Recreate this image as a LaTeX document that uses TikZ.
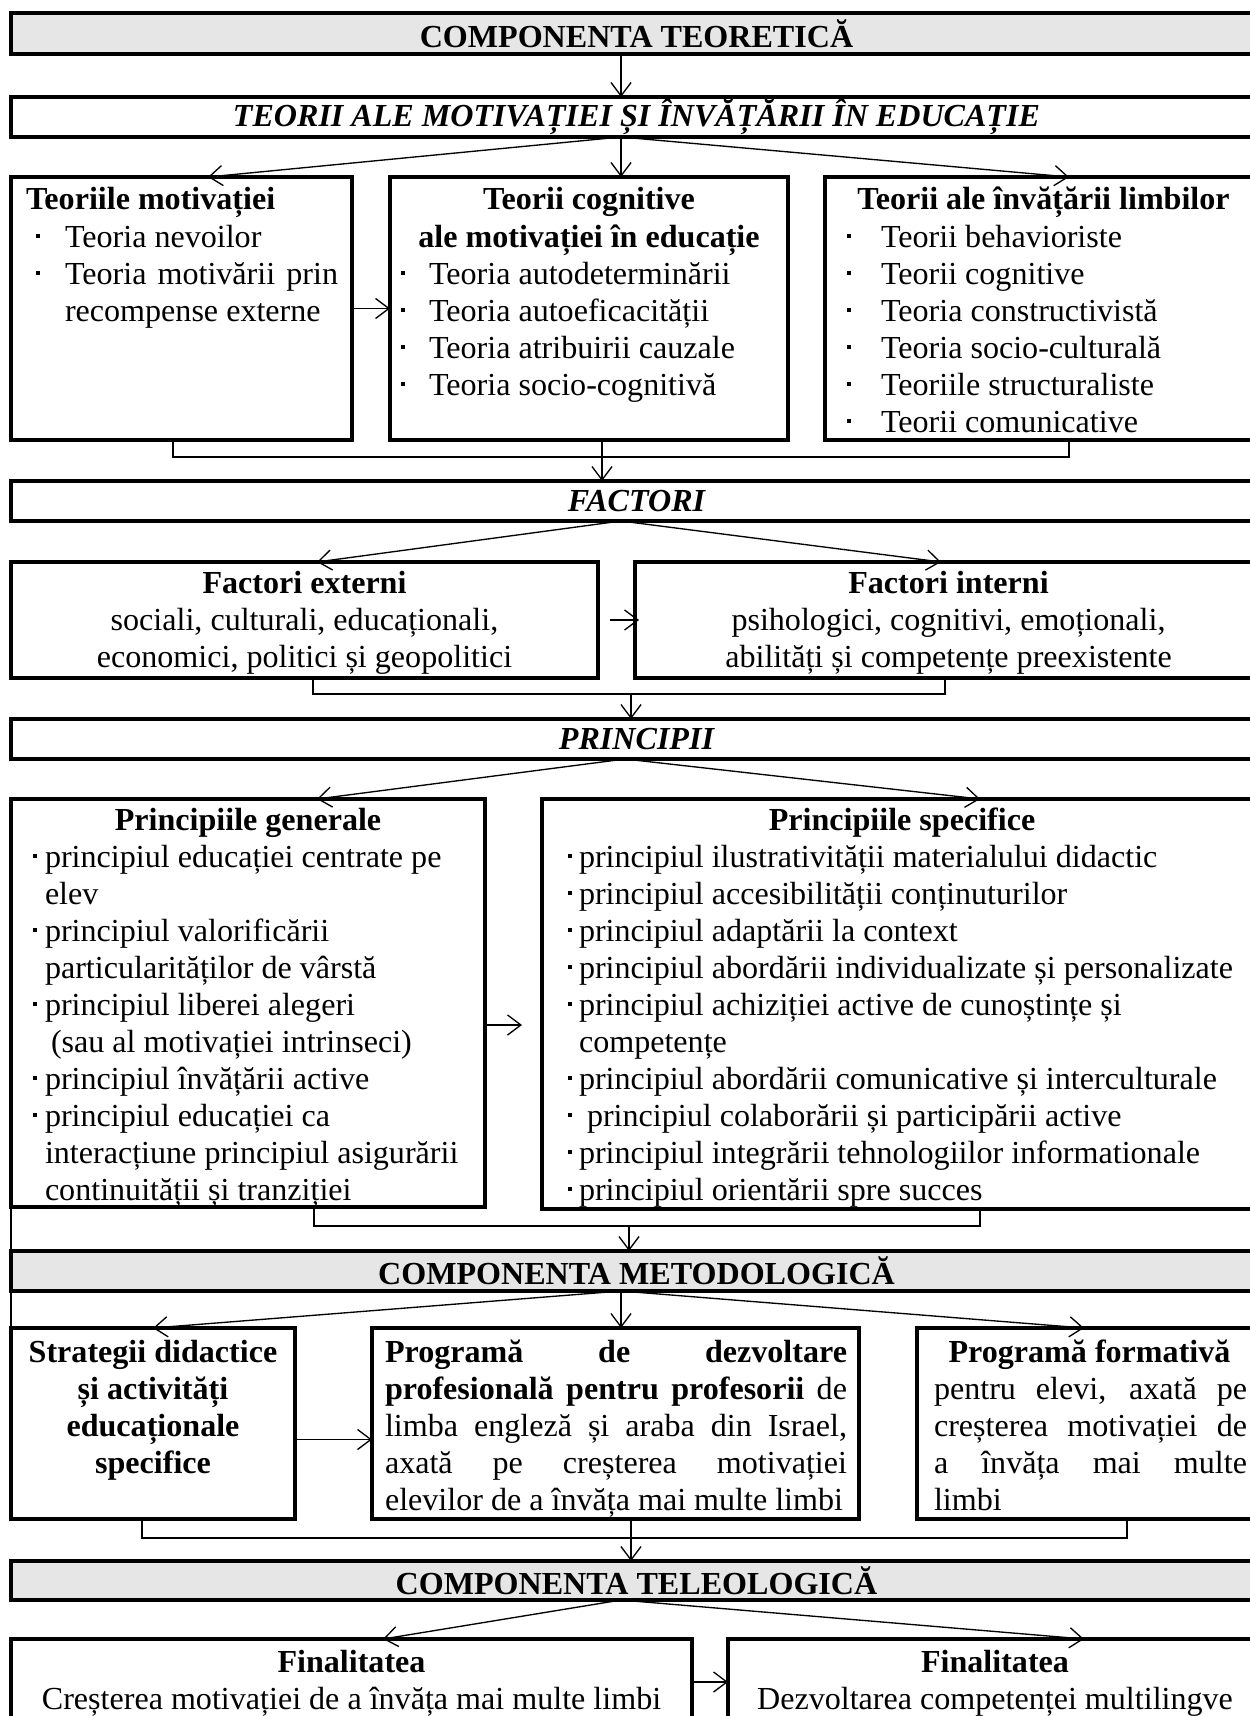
\documentclass[tikz,border=0pt]{standalone}
\usepackage{fontspec}
\setmainfont{Liberation Serif}
\usetikzlibrary{arrows.meta, calc}

\definecolor{hdrgray}{HTML}{E7E6E6}
\newdimen\pxu \pxu=0.374pt
\newcommand\sqb{\rule[3.4pt]{1.5pt}{1.5pt}}
\newcommand\blt[3]{\par\hangindent=#2\pxu\hangafter=1\noindent\makebox[#2\pxu][l]{\hspace*{#1\pxu}\sqb}#3}
\newcommand\cellbody[4][31]{\parbox[c][#3\pxu][t]{#2\pxu}{\rule{0pt}{#1\pxu}#4}}
\newcommand\headtext[2]{\parbox[c][#1\pxu][c]{1251\pxu}{\centering #2}}

\begin{document}
\begin{tikzpicture}[
    x=0.374pt, y=-0.374pt,
    every node/.style={font=\fontsize{12pt}{13.84pt}\selectfont},
    cellbox/.style={draw, line width=1.2pt, inner sep=0pt, outer sep=0pt, anchor=north west},
    headbox/.style={cellbox, fill=hdrgray},
    arr/.style={-{Straight Barb[length=5pt,width=7.5pt]}, line width=0.5pt},
    conn/.style={line width=0.6pt}
]
\useasboundingbox (0,0) rectangle (1250,1716);
\clip (0,0) rectangle (1250,1716);

\coordinate (spine) at (621,0);

% --- 1. Componenta teoretica ---
\node[headbox] (teoretica) at (11,13) {\headtext{41}{\bfseries COMPONENTA TEORETICĂ}};
\node[cellbox] (teorii) at (11,97) {\headtext{40}{\bfseries\itshape TEORII ALE MOTIVAȚIEI ȘI ÎNVĂȚĂRII ÎN EDUCAȚIE}};

\node[cellbox] (motiv) at (11,177) {\cellbody[33]{341}{263}{\rightskip=14\pxu\relax\hspace*{15\pxu}\textbf{Teoriile motivației}%
    \blt{25}{54}{Teoria nevoilor}%
    \blt{25}{54}{Teoria motivării prin\linebreak recompense externe}}};
\node[cellbox] (cognit) at (390,177) {\cellbody[33]{398}{263}{{\centering\bfseries Teorii cognitive\\ ale motivației în educație\par}%
    \blt{11}{39}{Teoria autodeterminării}%
    \blt{11}{39}{Teoria autoeficacității}%
    \blt{11}{39}{Teoria atribuirii cauzale}%
    \blt{11}{39}{Teoria socio-cognitivă}}};
\node[cellbox] (limbi) at (825,177) {\cellbody[33]{437}{263}{{\centering\bfseries Teorii ale învățării limbilor\par}%
    \blt{22}{56}{Teorii behavioriste}%
    \blt{22}{56}{Teorii cognitive}%
    \blt{22}{56}{Teoria constructivistă}%
    \blt{22}{56}{Teoria socio-culturală}%
    \blt{22}{56}{Teoriile structuraliste}%
    \blt{22}{56}{Teorii comunicative}}};

% --- 2. Factori ---
\node[cellbox] (factori) at (11,481) {\headtext{40}{\bfseries\itshape FACTORI}};

\node[cellbox] (extern) at (11,562) {\cellbody{587}{116}{{\centering\textbf{Factori externi}\\ sociali, culturali, educaționali,\\ economici, politici și geopolitici\par}}};
\node[cellbox] (intern) at (635,562) {\cellbody{627}{116}{{\centering\textbf{Factori interni}\\ psihologici, cognitivi, emoționali,\\ abilități și competențe preexistente\par}}};

% --- 3. Principii ---
\node[cellbox] (principii) at (11,719) {\headtext{40}{\bfseries\itshape PRINCIPII}};

\node[cellbox] (general) at (11,799) {\cellbody{474}{408}{{\centering\bfseries Principiile generale\par}%
    \blt{22}{34}{principiul educației centrate pe\newline elev}%
    \blt{22}{34}{principiul valorificării\newline particularităților de vârstă}%
    \blt{22}{34}{principiul liberei alegeri\newline\hspace*{6\pxu}(sau al motivației intrinseci)}%
    \blt{22}{34}{principiul învățării active}%
    \blt{22}{34}{principiul educației ca\newline interacțiune principiul asigurării\newline continuității și tranziției}}};
\node[cellbox] (specific) at (542,799) {\cellbody{720}{410}{{\centering\bfseries Principiile specifice\par}%
    \blt{26}{37}{principiul ilustrativității materialului didactic}%
    \blt{26}{37}{principiul accesibilității conținuturilor}%
    \blt{26}{37}{principiul adaptării la context}%
    \blt{26}{37}{principiul abordării individualizate și personalizate}%
    \blt{26}{37}{principiul achiziției active de cunoștințe și\newline competențe}%
    \blt{26}{37}{principiul abordării comunicative și interculturale}%
    \blt{26}{37}{\hspace*{8\pxu}principiul colaborării și participării active}%
    \blt{26}{37}{principiul integrării tehnologiilor informationale}%
    \blt{26}{37}{principiul orientării spre succes}}};

% --- 4. Componenta metodologica ---
\node[headbox] (metodologica) at (11,1251) {\headtext{40}{\bfseries COMPONENTA METODOLOGICĂ}};

\node[cellbox] (strategii) at (11,1328) {\cellbody[34]{284}{191}{{\centering\bfseries Strategii didactice\\ și activități\\ educaționale\\ specifice\par}}};
\node[cellbox] (profdev) at (372,1328) {\cellbody[34]{487}{191}{\leftskip=13\pxu\relax\rightskip=12\pxu\relax\textbf{Programă de dezvoltare}\linebreak \textbf{profesională pentru profesorii} de\linebreak limba engleză și araba din Israel,\linebreak axată pe creșterea motivației\linebreak elevilor de a învăța mai multe limbi}};
\node[cellbox] (formativ) at (917,1328) {\cellbody[34]{345}{191}{{\centering\bfseries Programă formativă\par}\leftskip=17\pxu\relax\rightskip=15\pxu\relax pentru elevi, axată pe\linebreak creșterea motivației de\linebreak a învăța mai multe\linebreak limbi}};

% --- 5. Componenta teleologica ---
\node[headbox] (teleologica) at (11,1561) {\headtext{39}{\bfseries COMPONENTA TELEOLOGICĂ}};

\node[cellbox] (final1) at (11,1639) {\cellbody[33]{681}{121}{{\centering\textbf{Finalitatea}\\ Creșterea motivației de a învăța mai multe limbi\par}}};
\node[cellbox] (final2) at (728,1639) {\cellbody[33]{534}{121}{{\centering\textbf{Finalitatea}\\ Dezvoltarea competenței multilingve\par}}};

% --- connectors ---
\draw[arr] (teoretica.south -| spine) -- (teorii.north -| spine);
\draw[arr] (teorii.south -| spine) -- ($(motiv.north west)+(197,0)$);
\draw[arr] (teorii.south -| spine) -- (cognit.north -| spine);
\draw[arr] (teorii.south -| spine) -- ($(limbi.north west)+(244,0)$);
\draw[arr] (motiv.east) -- (cognit.west);
\draw[conn] ($(motiv.south west)+(162,0)$) |- ($(limbi.south west)+(244,17)$) -- ($(limbi.south west)+(244,0)$);
\draw[arr] ($(cognit.south west)+(212,0)$) coordinate (cg) -- (cg |- factori.north);

\draw[arr] (factori.south -| spine) -- ($(extern.north west)+(306,0)$);
\draw[arr] (factori.south -| spine) -- ($(intern.north west)+(306,0)$);
\draw[arr] ($(extern.east)+(12,0)$) -- ($(intern.west)+(4,0)$);
\draw[conn] ($(extern.south west)+(302,0)$) |- ($(intern.south west)+(310,16)$) -- ($(intern.south west)+(310,0)$);
\draw[arr] ($(extern.south west)+(620,16)$) coordinate (fx) -- (fx |- principii.north);

\draw[arr] ($(principii.south -| spine)+(4,0)$) -- ($(general.north west)+(306,0)$);
\draw[arr] ($(principii.south -| spine)+(4,0)$) -- ($(specific.north west)+(438,0)$);
\draw[arr] ($(general.east)+(0,22)$) -- ($(general.east)+(37,22)$);
\draw[conn] ($(general.south west)+(303,0)$) |- ($(specific.south west)+(438,17)$) -- ($(specific.south west)+(438,0)$);
\draw[arr] ($(general.south west)+(618,19)$) coordinate (px) -- (px |- metodologica.north);
\draw[conn] (general.south west) -- (strategii.north west);

\draw[arr] (metodologica.south -| spine) -- ($(strategii.north west)+(142,0)$);
\draw[arr] (metodologica.south -| spine) -- (profdev.north -| spine);
\draw[arr] (metodologica.south -| spine) -- ($(formativ.north west)+(167,0)$);
\draw[arr] ($(strategii.east)+(2,16)$) -- ($(profdev.west)+(0,16)$);
\draw[conn] ($(strategii.south west)+(131,0)$) |- ($(formativ.south west)+(210,19)$) -- ($(formativ.south west)+(210,0)$);
\draw[arr] ($(profdev.south west)+(259,0)$) coordinate (mx) -- (mx |- teleologica.north);

\draw[arr] (teleologica.south -| spine) -- ($(final1.north west)+(372,0)$);
\draw[arr] (teleologica.south -| spine) -- ($(final2.north west)+(356,0)$);
\draw[arr] ($(final1.north east)+(0,43)$) -- ($(final2.north west)+(0,43)$);

\end{tikzpicture}
\end{document}
